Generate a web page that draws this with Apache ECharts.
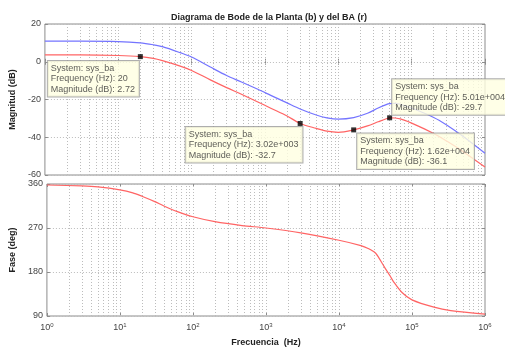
<!DOCTYPE html>
<html>
<head>
<meta charset="utf-8">
<script src="https://cdn.jsdelivr.net/npm/echarts@6/dist/echarts.min.js"></script>
<style>
  html, body { margin: 0; padding: 0; background: #fff; }
  #main { width: 505px; height: 350px; }
</style>
</head>
<body>
<div id="main"></div>
<script>
var freqMag = [1, 3, 10, 20, 30, 40, 70, 100, 180, 300, 470, 800, 1200, 2000, 3020, 5000, 7000,
    10000, 16200, 25000, 35000, 45000, 50100, 60000, 70000, 100000, 200000, 300000, 500000, 1000000]
// planta (b) - azul
var magPlanta = [10.9, 10.9, 10.7, 10.0, 9.0, 8.0, 4.8, 2.5, -2.8, -7.3, -10.6, -14.6, -17.8, -21.8, -25.0, -28.2, -29.7,
    -30.4, -29.6, -27.3, -24.5, -22.7, -22.2, -22.0, -22.5, -24.5, -29.5, -33.5, -39.5, -48.5]
// lazo abierto BA (r) - rojo
var magBA = [3.6, 3.6, 3.3, 2.72, 1.8, 0.6, -2.3, -4.6, -9.6, -13.7, -17.1, -21.3, -24.6, -28.7, -32.7, -35.3, -36.8,
    -37.4, -36.1, -34.0, -31.8, -30.2, -29.7, -29.8, -30.3, -32.5, -38.0, -42.0, -47.5, -55.8]

var freqFase = [1, 3, 5, 10, 15, 20, 30, 40, 60, 100, 200, 470, 1000, 3000, 10000, 20000, 25100, 31600, 35500, 41600,
    50100, 56000, 73000, 100000, 200000, 340000, 1000000]
var faseBA = [358, 356, 354, 348, 342, 335, 324, 315, 304, 293, 283, 275, 270, 260, 245, 234, 228, 219, 208, 191,
    172, 160, 138, 123, 108, 101, 94]

// data tips
var tipFreq = [20, 3020, 16200, 50100]
var tipMag = [2.72, -32.7, -36.1, -29.7]
var tipFreqText = ['20', '3.02e+003', '1.62e+004', '5.01e+004']
var tipOffset = [[-90, 7], [-112, 6], [6, 6], [5, -36]]

// lineas de rejilla menores 1..9 x 10^n
var gridFreqs = []
for (var d = 0; d < 6; d++) {
    for (var k = 1; k <= 9; k++) {
        var v = k * Math.pow(10, d)
        if (v > 1) gridFreqs.push(v)
    }
}

var font = 'Liberation Sans, Arial, sans-serif'
var gridColor = '#bcbcbc'
var boxColor = '#8c8c8c'

var pairs = function (xs, ys) {
    return xs.map(function (x, i) { return [x, ys[i]] })
}

var gridLineSeries = function (idx) {
    return {
        type: 'line',
        xAxisIndex: idx,
        yAxisIndex: idx,
        data: [],
        silent: true,
        z: 1,
        markLine: {
            silent: true,
            symbol: 'none',
            animation: false,
            label: { show: false },
            lineStyle: { color: gridColor, type: [1, 2], width: 1 },
            data: gridFreqs.map(function (f) { return { xAxis: f } })
        }
    }
}

var xBase = function (gridIndex, pos, labels) {
    return {
        type: 'log',
        logBase: 10,
        gridIndex: gridIndex,
        position: pos,
        min: 1,
        max: 1000000,
        axisLine: { show: false },
        axisTick: { show: true, inside: true, length: 3, lineStyle: { color: boxColor } },
        splitLine: { show: false },
        axisLabel: labels ? {
            show: true,
            margin: 6,
            color: '#444',
            fontFamily: font,
            fontSize: 9,
            formatter: function (val) {
                return '{b|10}{e|' + Math.round(Math.log10(val)) + '}'
            },
            rich: {
                b: { fontSize: 9, fontFamily: font, color: '#444' },
                e: { fontSize: 6, fontFamily: font, color: '#444', padding: [0, 0, 5, 0] }
            }
        } : { show: false }
    }
}

var yBase = function (gridIndex, pos, min, max, interval, name, labels) {
    return {
        type: 'value',
        gridIndex: gridIndex,
        position: pos,
        min: min,
        max: max,
        interval: interval,
        name: name,
        nameLocation: 'middle',
        nameGap: 15,
        nameTextStyle: { fontFamily: font, fontSize: 9, fontWeight: 'bold', color: '#222' },
        axisLine: { show: false },
        axisTick: { show: true, inside: true, length: 3, lineStyle: { color: boxColor } },
        splitLine: labels ? { show: true, lineStyle: { color: gridColor, type: [1, 2] } } : { show: false },
        axisLabel: labels ? { show: true, margin: 4, color: '#444', fontFamily: font, fontSize: 9 } : { show: false }
    }
}

var chart = echarts.init(document.getElementById('main'), null, { renderer: 'canvas' })

var lineCommon = {
    type: 'line',
    showSymbol: false,
    smooth: 0.3,
    z: 10
}

var option = {
    animation: false,
    backgroundColor: '#ffffff',
    title: {
        text: 'Diagrama de Bode de la Planta (b) y del BA (r)',
        left: 264,
        top: 8,
        textAlign: 'center',
        textStyle: { fontFamily: font, fontSize: 9, fontWeight: 'bold', color: '#222' }
    },
    grid: [
        { left: 44, right: 20, top: 24, height: 151, show: true, borderColor: boxColor, borderWidth: 1, backgroundColor: '#fff' },
        { left: 44, right: 20, top: 184, height: 132, show: true, borderColor: boxColor, borderWidth: 1, backgroundColor: '#fff' }
    ],
    xAxis: [
        xBase(0, 'bottom', false),
        Object.assign(xBase(1, 'bottom', true), {
            name: 'Frecuencia  (Hz)',
            nameLocation: 'middle',
            nameGap: 22,
            nameTextStyle: { fontFamily: font, fontSize: 9, fontWeight: 'bold', color: '#222' }
        }),
        xBase(0, 'top', false),
        xBase(1, 'top', false)
    ],
    yAxis: [
        yBase(0, 'left', -60, 20, 20, 'Magnitud (dB)', true),
        yBase(1, 'left', 90, 360, 90, 'Fase (deg)', true),
        yBase(0, 'right', -60, 20, 20, '', false),
        yBase(1, 'right', 90, 360, 90, '', false)
    ],
    series: [
        gridLineSeries(0),
        gridLineSeries(1),
        Object.assign({}, lineCommon, {
            name: 'Planta (b)',
            xAxisIndex: 0,
            yAxisIndex: 0,
            lineStyle: { color: '#7474ff', width: 1.2 },
            data: pairs(freqMag, magPlanta)
        }),
        Object.assign({}, lineCommon, {
            name: 'BA (r)',
            xAxisIndex: 0,
            yAxisIndex: 0,
            z: 11,
            lineStyle: { color: '#ff6464', width: 1.2 },
            data: pairs(freqMag, magBA)
        }),
        {
            name: 'data tips',
            type: 'scatter',
            xAxisIndex: 0,
            yAxisIndex: 0,
            z: 20,
            symbol: 'rect',
            symbolSize: 5,
            itemStyle: { color: '#000' },
            data: tipFreq.map(function (f, i) {
                return {
                    value: [f, tipMag[i]],
                    label: {
                        show: true,
                        position: tipOffset[i],
                        formatter: 'System: sys_ba\nFrequency (Hz): ' + tipFreqText[i] + '\nMagnitude (dB): ' + tipMag[i],
                        fontFamily: font,
                        fontSize: 9,
                        lineHeight: 10.5,
                        color: '#333',
                        align: 'left',
                        verticalAlign: 'top',
                        backgroundColor: '#ffffe1',
                        borderColor: '#9a9a9a',
                        borderWidth: 1,
                        padding: [2, 4, 2, 3]
                    }
                }
            })
        },
        Object.assign({}, lineCommon, {
            name: 'Fase BA',
            xAxisIndex: 1,
            yAxisIndex: 1,
            lineStyle: { color: '#ff6464', width: 1.2 },
            data: pairs(freqFase, faseBA)
        })
    ]
}

chart.setOption(option)
</script>
</body>
</html>
